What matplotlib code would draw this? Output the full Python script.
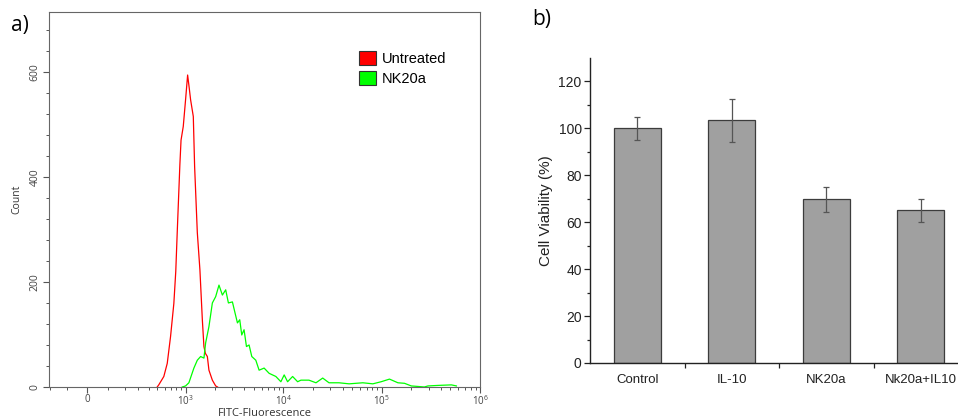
import matplotlib
matplotlib.use("Agg")
import matplotlib.pyplot as plt
import numpy as np
from matplotlib.patches import Patch
from matplotlib.ticker import FixedLocator, NullFormatter

# left panel: flow cytometry histograms (FITC value, count)
untreated_x = [500, 520, 590, 642, 696, 754, 790, 819, 872, 897, 946, 1000, 1050,
               1090, 1127, 1202, 1240, 1322, 1406, 1489, 1546, 1600, 1676, 1740,
               1886, 2039, 2130]
untreated_count = [0, 4, 20, 45, 96, 159, 220, 296, 423, 470, 496, 547, 594,
                   570, 547, 515, 420, 294, 223, 128, 77, 64, 58, 32,
                   13, 2, 0]

nk20a_x = [924, 1000, 1082, 1219, 1322, 1430, 1546, 1610, 1740, 1886, 2039, 2204,
           2388, 2581, 2751, 3022, 3214, 3401, 3590, 3763, 3972, 4202, 4468, 4761,
           5230, 5652, 6357, 7149, 8369, 9413, 10172, 11017, 12393, 13938, 15059,
           18170, 21422, 25078, 29078, 36774, 46510, 64165, 81164, 98637, 119887,
           146046, 170589, 199677, 233714, 271000, 295627, 373801, 510959, 574690]
nk20a_count = [0, 2, 8, 36, 51, 58, 55, 84, 115, 160, 172, 194,
               175, 185, 160, 162, 141, 122, 128, 99, 109, 77, 80, 58,
               51, 32, 36, 26, 20, 10, 23, 10, 20, 10, 13,
               13, 8, 17, 8, 8, 6, 8, 6, 10, 15,
               8, 7, 2, 1, 0, 2, 3, 4, 2]

hist_xticks = [0, 1e3, 1e4, 1e5, 1e6]
hist_xticklabels = ["0", "$10^3$", "$10^4$", "$10^5$", "$10^6$"]

# right panel: viability bars
groups = ["Control", "IL-10", "NK20a", "Nk20a+IL10"]
viability = [100.0, 103.4, 69.8, 65.0]
viability_err = [5.0, 9.0, 5.4, 5.1]

plt.rcParams["mathtext.default"] = "regular"

# biexponential-like display scale used by the cytometry software
W = 202.0
def fwd(x):
    return np.arcsinh(np.asarray(x, float) / W) / np.log(10)

def inv(y):
    return W * np.sinh(np.asarray(y, float) * np.log(10))

fig = plt.figure(figsize=(9.58, 4.18), dpi=100)

# ---------------- a) histogram
ax1 = fig.add_axes([0.0512, 0.0742, 0.4499, 0.8971])
ax1.plot(untreated_x, untreated_count, color="#ff0000", lw=0.9)
ax1.plot(nk20a_x, nk20a_count, color="#00ff00", lw=0.9)
ax1.set_xscale("function", functions=(fwd, inv))
ax1.set_xlim(-206, 1e6)
ax1.set_ylim(0, 714)

minors = [-200, -100] + list(range(100, 1000, 100))
for d in [1e3, 1e4, 1e5]:
    minors += [k * d for k in range(2, 10)]
ax1.xaxis.set_major_locator(FixedLocator(hist_xticks))
ax1.set_xticklabels(hist_xticklabels)
ax1.xaxis.set_minor_locator(FixedLocator(minors))
ax1.xaxis.set_minor_formatter(NullFormatter())
ax1.yaxis.set_major_locator(FixedLocator([0, 200, 400, 600]))
ax1.yaxis.set_minor_locator(FixedLocator([v for v in range(40, 700, 40) if v % 200]))

lf = "Open Sans"
for lab in ax1.get_xticklabels():
    lab.set_fontfamily(lf)
    lab.set_fontsize(7)
    lab.set_color("#444444")
for lab in ax1.get_yticklabels():
    lab.set_fontfamily(lf)
    lab.set_fontsize(7.5)
    lab.set_color("#444444")
    lab.set_rotation(90)
    lab.set_va("center")
ax1.tick_params(which="major", length=4, width=0.8, color="#555555", pad=2)
ax1.tick_params(axis="x", which="major", pad=1)
ax1.tick_params(which="minor", length=2.5, width=0.7, color="#555555")
for s in ax1.spines.values():
    s.set_color("#666666")
    s.set_linewidth(0.8)

ax1.set_xlabel("FITC-Fluorescence", fontfamily=lf, fontsize=8, color="#333333", labelpad=0)
ax1.set_ylabel("Count", fontfamily=lf, fontsize=7.5, color="#333333", labelpad=5)

handles = [Patch(facecolor="#ff0000", edgecolor="#333333", lw=0.8),
           Patch(facecolor="#00ff00", edgecolor="#333333", lw=0.8)]
ax1.legend(handles, ["Untreated", "NK20a"], loc="upper left",
           bbox_to_anchor=(0.72, 0.895), frameon=False, borderpad=0,
           borderaxespad=0, handlelength=1.15, handleheight=1.1,
           handletextpad=0.4, labelspacing=0.3,
           prop={"family": "Liberation Sans", "size": 10.5})

# ---------------- b) bars
ax2 = fig.add_axes([0.6159, 0.1316, 0.3946, 0.7297])
pos = np.arange(len(groups))
ax2.bar(pos, viability, width=0.5, color="#a0a0a0", edgecolor="#3c3c3c", lw=0.9,
        yerr=viability_err,
        error_kw=dict(ecolor="#555555", elinewidth=0.9, capsize=2, capthick=0.9))
ax2.set_xlim(-0.5, 3.5)
ax2.set_ylim(0, 130)
ax2.set_xticks(pos)
ax2.set_xticklabels(groups)
ax2.xaxis.set_minor_locator(FixedLocator([0.5, 1.5, 2.5, 3.5]))
ax2.set_yticks(range(0, 121, 20))
ax2.yaxis.set_minor_locator(FixedLocator(range(10, 120, 20)))
ax2.spines["top"].set_visible(False)
ax2.spines["right"].set_visible(False)
for s in ("left", "bottom"):
    ax2.spines[s].set_color("#222222")
    ax2.spines[s].set_linewidth(1.0)
ax2.tick_params(axis="x", which="major", length=0, pad=8)
ax2.tick_params(axis="x", which="minor", length=3.5, width=0.9, color="#222222")
ax2.tick_params(axis="y", which="major", length=4, width=0.9, color="#222222", pad=2)
ax2.tick_params(axis="y", which="minor", length=2.5, width=0.9, color="#222222")
for lab in ax2.get_xticklabels():
    lab.set_fontfamily("Liberation Sans")
    lab.set_fontsize(9.5)
    lab.set_color("#222222")
for lab in ax2.get_yticklabels():
    lab.set_fontfamily("Liberation Sans")
    lab.set_fontsize(10)
    lab.set_color("#222222")
ax2.set_ylabel("Cell Viability (%)", fontfamily="Liberation Sans", fontsize=11,
               color="#222222", labelpad=4)

fig.text(0.011, 0.925, "a)", fontfamily="Open Sans", fontsize=15, va="baseline")
fig.text(0.556, 0.94, "b)", fontfamily="Open Sans", fontsize=15, va="baseline")

fig.savefig("out.png", dpi=100)
